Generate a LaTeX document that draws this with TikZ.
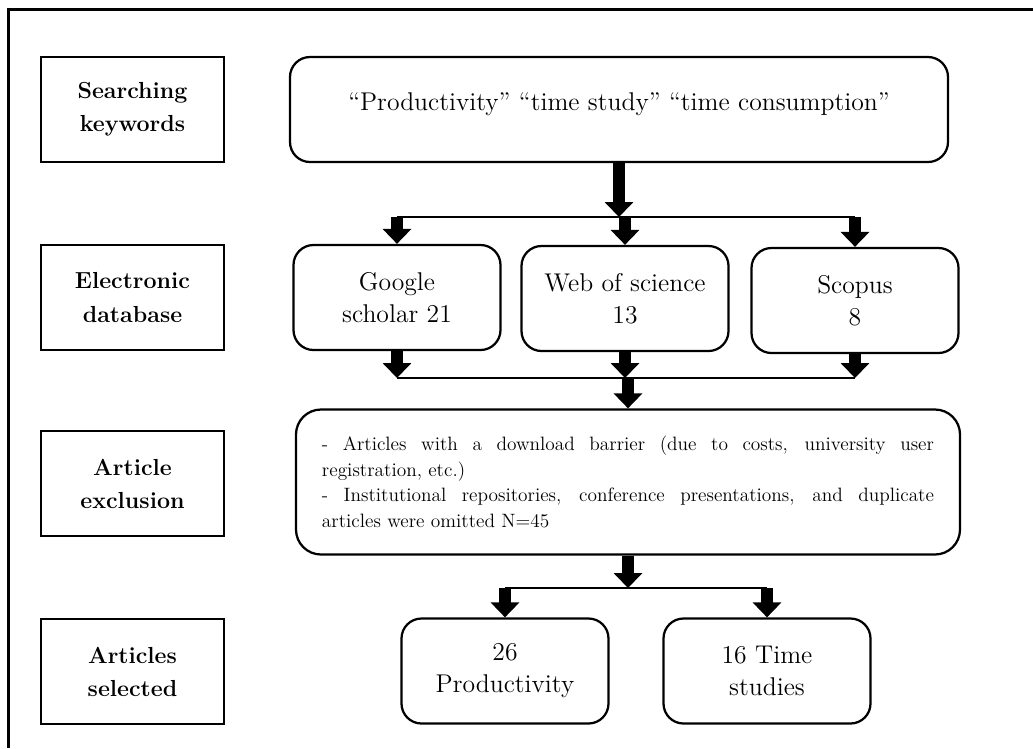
\documentclass[tikz,border=0pt]{standalone}
\usepackage{fontspec}
\usetikzlibrary{arrows.meta,positioning}

\begin{document}
\begin{tikzpicture}[x=0.2mm, y=-0.2mm,
  stage/.style={draw, line width=0.45mm, minimum width=36.6mm, minimum height=21mm,
    align=center, font=\fontsize{13.2}{18.8}\selectfont\bfseries},
  dbbox/.style={draw, line width=0.45mm, rounded corners=4mm, minimum width=41.4mm,
    minimum height=21mm, align=center, font=\fontsize{14.6}{18.2}\selectfont},
  fatarrow/.style={line width=2.4mm, -{Triangle[length=3mm, width=5.6mm]}},
  link/.style={line width=0.3mm}]
  \useasboundingbox (0,0) rectangle (1033,748);

  % Frame
  \draw[line width=0.6mm] (1033,9) -- (8,9) -- (8,748);

  % Stage labels
  \node[stage] (lkey) at (132.5,109.5) {Searching\\keywords};
  \node[stage] (ldb)  at (132.5,297.5) {Electronic\\database};
  \node[stage] (lexc) at (132.5,483.5) {Article\\exclusion};
  \node[stage] (lsel) at (132.5,671.5) {Articles\\selected};

  % Keywords
  \node[dbbox, minimum width=131.6mm, text height=3.5mm, text depth=3.2mm] (kw) at (619,109.5)
    {``Productivity'' ``time study'' ``time consumption''};

  % Databases
  \node[dbbox] (google) at (397,297.5) {Google\\scholar 21};
  \node[dbbox] (wos)    at (625,298.5) {Web of science\\13};
  \node[dbbox] (scopus) at (855,300.5) {Scopus\\8};

  \coordinate (split1) at (622,217);
  \draw[fatarrow] (kw.south) -- (kw.south |- split1);
  \draw[link] (google.north |- split1) -- (scopus.north |- split1);
  \foreach \n in {google,wos,scopus} {
    \draw[fatarrow] (\n.north |- split1) -- (\n.north);
  }

  \coordinate (split2) at (628,378);
  \foreach \n in {google,wos,scopus} {
    \draw[fatarrow] (\n.south) -- (\n.south |- split2);
  }
  \draw[link] (google.south |- split2) -- (scopus.south |- split2);

  % Exclusion
  \node[dbbox, minimum width=132.8mm, minimum height=29mm, rounded corners=5mm,
    text width=122.4mm, align=justify, font=\fontsize{11}{14.6}\selectfont] (excl) at (628,482)
    {\parindent=0pt - Articles with a download barrier (due to costs, university user\linebreak
     registration, etc.)\par
     - Institutional repositories, conference presentations, and duplicate\linebreak
     articles were omitted N=45};
  \draw[fatarrow] (excl.north |- split2) -- (excl.north);

  % Selected
  \node[dbbox] (prod)  at (505,671) {26\\Productivity};
  \node[dbbox] (tstud) at (767,671) {16 Time\\studies};

  \coordinate (split3) at (633,588);
  \draw[fatarrow] (excl.south) -- (excl.south |- split3);
  \draw[link] (prod.north |- split3) -- (tstud.north |- split3);
  \foreach \n in {prod,tstud} {
    \draw[fatarrow] (\n.north |- split3) -- (\n.north);
  }
\end{tikzpicture}
\end{document}
